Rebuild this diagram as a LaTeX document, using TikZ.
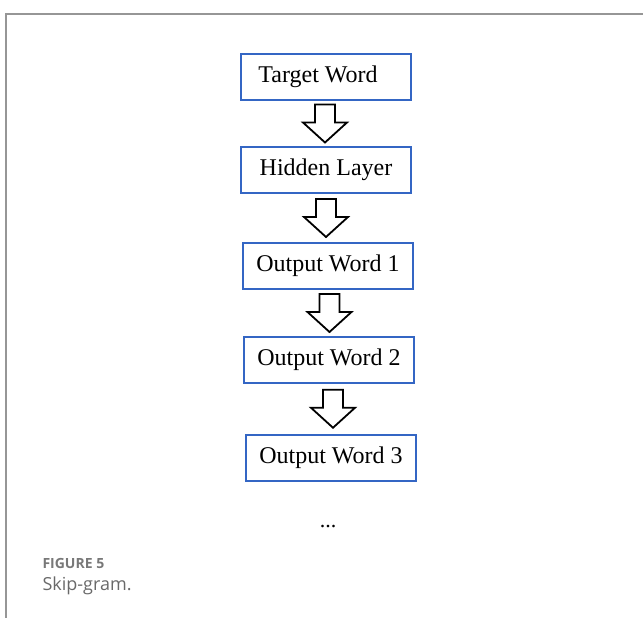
\documentclass[tikz,border=0pt]{standalone}
\usepackage{fontspec}
\setmainfont{Liberation Serif}
\newfontfamily\capfont{Open Sans}
\usepackage{xcolor}
\usepackage{tikz}
\usetikzlibrary{calc}

\definecolor{boxblue}{RGB}{52,102,196}
\definecolor{framegray}{RGB}{150,150,150}
\definecolor{capgray}{RGB}{105,105,105}

\tikzset{
    wordbox/.style={draw=boxblue, line width=2pt, minimum width=170pt, minimum height=46pt,
        inner sep=0pt, font=\fontsize{24}{28}\selectfont},
    flowarrow/.pic={\draw[line width=1.8pt, line join=miter]
        (-10,-19) -- (10,-19) -- (10,-1) -- (22,-1) -- (0,19) -- (-22,-1) -- (-10,-1) -- cycle;}
}

\begin{document}
\begin{tikzpicture}[x=1pt, y=-1pt]
    \useasboundingbox (0,0) rectangle (643,618);

    % Frame
    \draw[framegray, line width=1.2pt] (643,14) -- (6,14) -- (6,618);

    % Boxes
    \node[wordbox] (target) at (326,77) {\hspace*{-16pt}Target Word};
    \node[wordbox] (hidden) at (326,170) {Hidden Layer};
    \node[wordbox] (out1) at (328,266) {Output Word 1};
    \node[wordbox] (out2) at (329,360) {Output Word 2};
    \node[wordbox] (out3) at (331,457.5) {Output Word 3};

    % Block arrows between boxes
    \pic at ($(target.south)!0.5!(hidden.north)+(-1,0)$) {flowarrow};
    \pic at ($(hidden.south)!0.5!(out1.north)+(-1,0)$) {flowarrow};
    \pic at ($(out1.south)!0.5!(out2.north)+(1,0)$) {flowarrow};
    \pic at ($(out2.south)!0.5!(out3.north)+(3,0)$) {flowarrow};

    % Continuation dots
    \node[font=\fontsize{22}{26}\selectfont] (more) at (328,527) {...};

    % Caption
    \node[anchor=west, font=\capfont\bfseries\fontsize{14}{16}\selectfont, text=capgray!90] (fignum) at (39,563) {FIGURE 5};
    \node[anchor=west, font=\capfont\fontsize{18}{21}\selectfont, text=capgray] (figcap) at (39,586) {Skip-gram.};
\end{tikzpicture}
\end{document}
